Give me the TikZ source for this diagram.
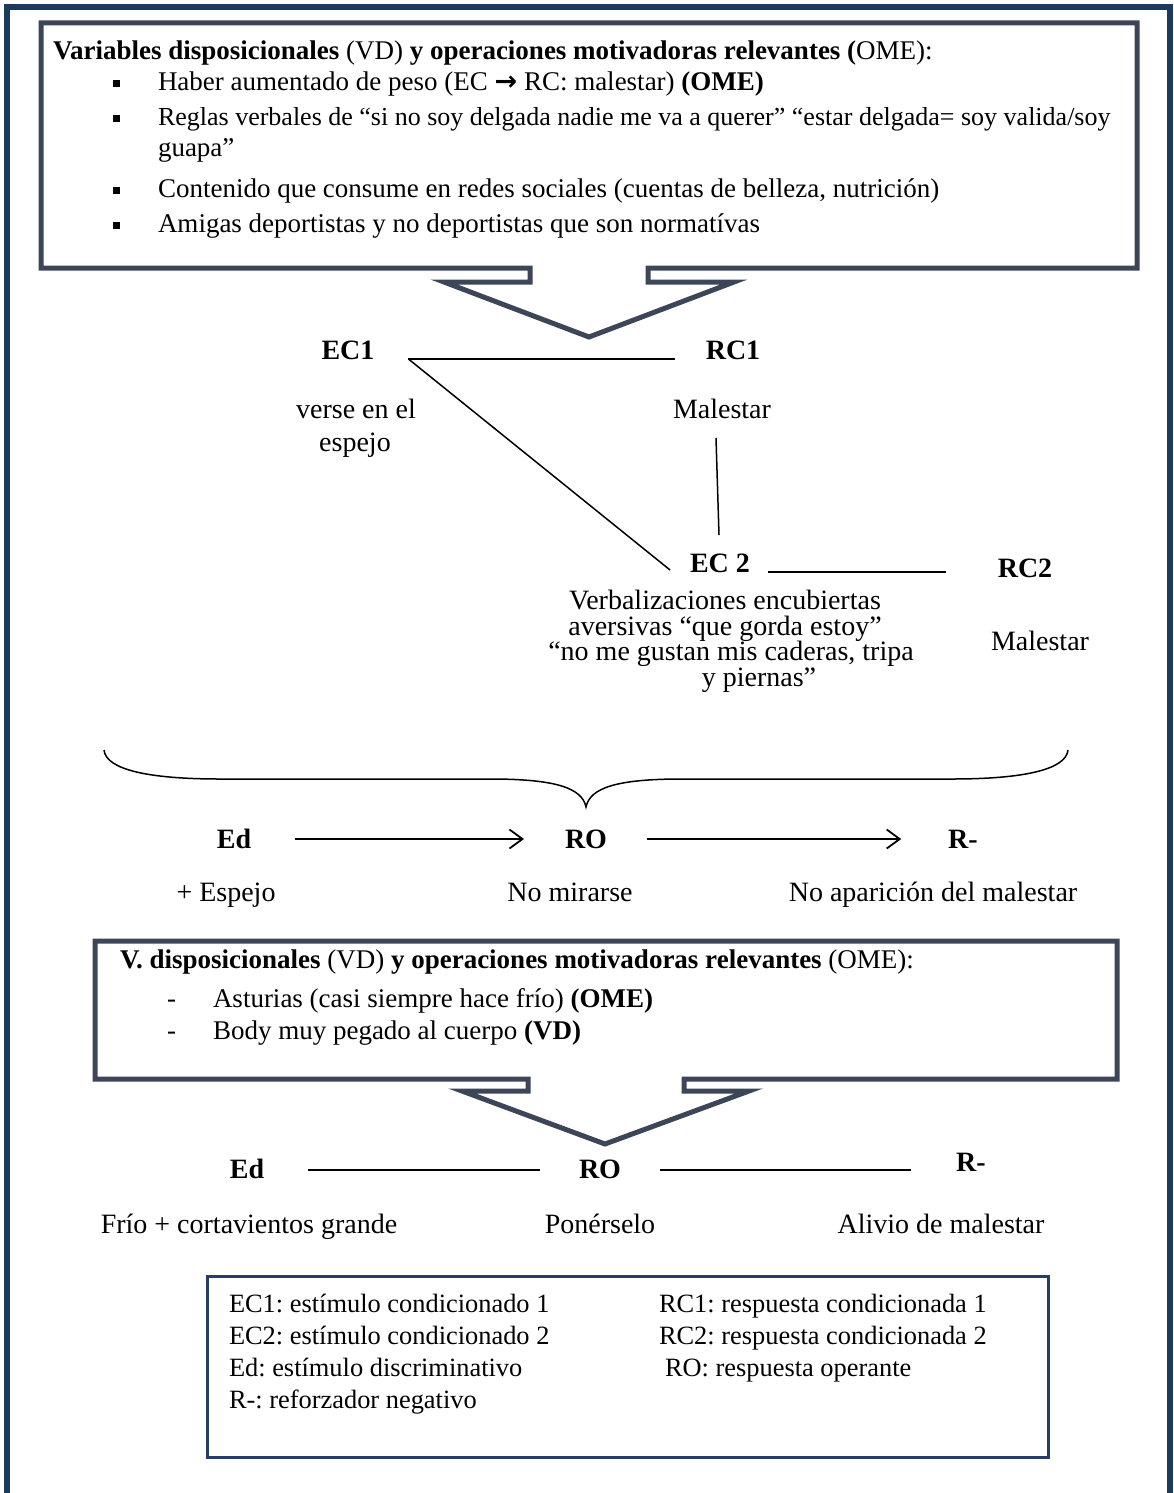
\documentclass[tikz,border=0pt]{standalone}
\usepackage{fontspec}
\setmainfont{Liberation Serif}
\newfontfamily\arrowglyph{DejaVu Sans}
\usetikzlibrary{calc,arrows.meta}
\definecolor{pageblue}{RGB}{28,58,94}
\definecolor{calloutgray}{RGB}{60,70,88}
\definecolor{legendblue}{RGB}{38,60,105}

\begin{document}
\frenchspacing
\begin{tikzpicture}[x=1pt,y=-1pt,
  txt/.style={inner sep=0pt,outer sep=0pt,font=\fontsize{28}{34}\selectfont},
  boxtxt/.style={inner sep=0pt,outer sep=0pt,anchor=base west,font=\fontsize{27}{33}\selectfont},
  lbl/.style={txt,anchor=base},
  head/.style={inner sep=0pt,outer sep=0pt,anchor=base,font=\fontsize{28}{34}\selectfont\bfseries},
  key/.style={inner sep=0pt,outer sep=0pt,anchor=base west,font=\fontsize{26.4}{33}\selectfont},
  callout/.style={draw=calloutgray,line width=5pt,line join=miter},
  link/.style={line width=1.8pt},
  flow/.style={line width=1.8pt,-{Straight Barb[length=13pt,width=19pt,line width=1.8pt]}},
  sqbullet/.style={fill=black,minimum size=7pt,inner sep=0pt,outer sep=0pt}
]
\useasboundingbox (0,0) rectangle (1173,1493);
\fill[white] (0,0) rectangle (1173,1493);

% page frame
\begin{scope}
  \clip (0,0) rectangle (1173,1493);
  \draw[pageblue,line width=6pt] (7,7) rectangle (1170,1540);
\end{scope}

% ---------- upper callout: dispositional variables ----------
\draw[callout] (41,23) -- (1137,23) -- (1137,268) -- (648,268) -- (648,282)
  -- (734,282) -- (589,337) -- (444,282) -- (530,282) -- (530,268)
  -- (41,268) -- cycle;

\node[boxtxt] (vdhead) at (53,60) {\textbf{Variables disposicionales} (VD) \textbf{y operaciones motivadoras relevantes (}OME):};
\node[boxtxt] (item1) at (158,91) {Haber aumentado de peso (EC {\arrowglyph\bfseries\fontsize{27}{30}\selectfont →} RC: malestar) \textbf{(OME)}};
\node[boxtxt,font=\fontsize{26}{32}\selectfont] (item2) at (158,126) {Reglas verbales de “si no soy delgada nadie me va a querer” “estar delgada= soy valida/soy};
\node[boxtxt] (item2b) at (158,156) {guapa”};
\node[boxtxt] (item3) at (158,197) {Contenido que consume en redes sociales (cuentas de belleza, nutrición)};
\node[boxtxt] (item4) at (158,232) {Amigas deportistas y no deportistas que son normatívas};
\node[sqbullet] (bul1) at (116,84) {};
\node[sqbullet] (bul2) at (116,119) {};
\node[sqbullet] (bul3) at (116,190) {};
\node[sqbullet] (bul4) at (116,225) {};

% ---------- respondent chain ----------
\node[head] (ec1) at (348,359) {EC1};
\node[head] (rc1) at (733,359) {RC1};
\node[lbl] (ec1a) at (356,418) {verse en el};
\node[lbl] (ec1b) at (355,451) {espejo};
\node[lbl] (rc1a) at (722,418) {Malestar};

\node[head] (ec2) at (720,572) {EC 2};
\node[head] (rc2) at (1025,577) {RC2};
\node[lbl] (ec2a) at (725,609) {Verbalizaciones encubiertas};
\node[lbl] (ec2b) at (725,635) {aversivas “que gorda estoy”};
\node[lbl] (ec2c) at (731,660.5) {“no me gustan mis caderas, tripa};
\node[lbl] (ec2d) at (759,686) {y piernas”};
\node[lbl] (rc2a) at (1040,650) {Malestar};

\draw[link] ($(ec1.base east)+(34,0)$) -- ($(rc1.base west)+(-31,0)$);
\draw[line width=1.5pt] ($(ec1.base east)+(34,0)$) -- ($(ec2.base west)+(-20,-2)$);
\draw[line width=1.5pt] ($(rc1a.base)+(-6,20)$) -- ($(ec2.base)+(-1,-37)$);
\draw[link] ($(ec2.base east)+(18,0)$) -- ($(rc2.base west)+(-52,-5)$);

% grouping brace
\draw[line width=1.5pt] (104,750) .. controls (106,770) and (150,779) .. (220,779)
  -- (490,779) .. controls (556,779) and (582,788) .. (586,807)
  .. controls (590,788) and (616,779) .. (682,779)
  -- (952,779) .. controls (1022,779) and (1066,770) .. (1068,750);

% ---------- first operant chain ----------
\node[head] (ed1) at (234,848) {Ed};
\node[head] (ro1) at (586,848) {RO};
\node[head] (rn1) at (963,848) {R-};
\draw[flow] ($(ed1.base east)+(44,-9)$) -- ($(ro1.base west)+(-41,-9)$);
\draw[flow] ($(ro1.base east)+(40,-9)$) -- ($(rn1.base west)+(-47,-9)$);
\node[lbl] (ed1a) at (226,901) {+ Espejo};
\node[lbl] (ro1a) at (570,901) {No mirarse};
\node[lbl] (rn1a) at (933,901) {No aparición del malestar};

% ---------- lower callout ----------
\draw[callout] (95,941) -- (1117,941) -- (1117,1079) -- (684,1079) -- (684,1091)
  -- (749,1091) -- (605,1144) -- (462,1091) -- (528,1091) -- (528,1079)
  -- (95,1079) -- cycle;

\node[boxtxt] (mohead) at (120,968) {\textbf{V. disposicionales} (VD) \textbf{y operaciones motivadoras relevantes} (OME):};
\node[boxtxt] (dash1) at (167,1007) {-};
\node[boxtxt] (dash2) at (167,1039) {-};
\node[boxtxt] (mo1) at (213,1007) {Asturias (casi siempre hace frío) \textbf{(OME)}};
\node[boxtxt] (mo2) at (213,1039) {Body muy pegado al cuerpo \textbf{(VD)}};

% ---------- second operant chain ----------
\node[head] (ed2) at (247,1178) {Ed};
\node[head] (ro2) at (600,1178) {RO};
\node[head] (rn2) at (971,1171) {R-};
\draw[link] ($(ed2.base east)+(44,-8)$) -- ($(ro2.base west)+(-39,-8)$);
\draw[link] ($(ro2.base east)+(39,-8)$) -- ($(rn2.base west)+(-45,-1)$);
\node[lbl] (ed2a) at (249,1233) {Frío + cortavientos grande};
\node[lbl] (ro2a) at (600,1233) {Ponérselo};
\node[lbl] (rn2a) at (941,1233) {Alivio de malestar};

% ---------- key ----------
\draw[legendblue,line width=3pt] (207,1276) rectangle (1048,1457);
\node[key] (k1) at (229,1312) {EC1: estímulo condicionado 1};
\node[key] (k2) at (229,1344) {EC2: estímulo condicionado 2};
\node[key] (k3) at (229,1376) {Ed: estímulo discriminativo};
\node[key] (k4) at (229,1408) {R-: reforzador negativo};
\node[key] (k5) at (659,1312) {RC1: respuesta condicionada 1};
\node[key] (k6) at (659,1344) {RC2: respuesta condicionada 2};
\node[key] (k7) at (665,1376) {RO: respuesta operante};
\end{tikzpicture}
\end{document}
